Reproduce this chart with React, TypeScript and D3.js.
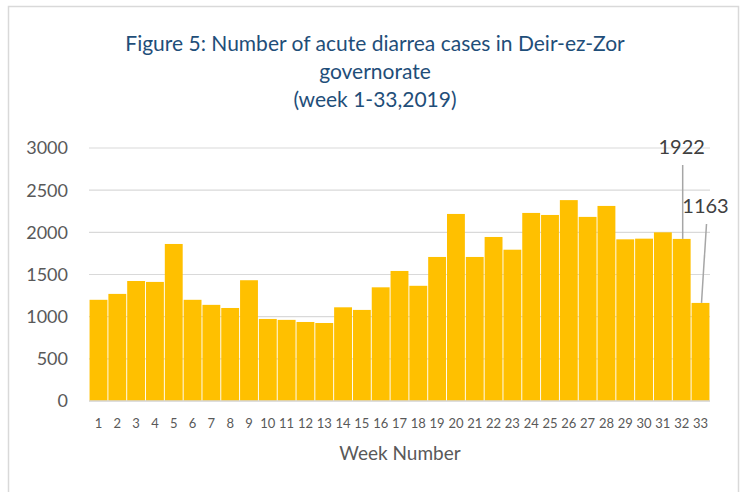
import React from "react"
import * as d3 from "d3"

const weeks = d3.range(1, 34).map((w) => String(w))
const cases = [
  1200, 1270, 1423, 1412, 1862, 1200, 1140, 1103, 1432, 973, 962, 937, 925, 1111, 1080, 1348, 1542,
  1366, 1708, 2218, 1708, 1945, 1794, 2230, 2206, 2382, 2183, 2313, 1917, 1925, 2000, 1922, 1163,
]
const yTicks = [0, 500, 1000, 1500, 2000, 2500, 3000]
const labelledWeeks = ["32", "33"]
const titleLines = [
  "Figure 5: Number of acute diarrea cases in Deir-ez-Zor",
  "governorate",
  "(week 1-33,2019)",
]

const width = 743
const height = 492
const font = "Lato, 'Open Sans', sans-serif"

export default function App() {
  const x = d3.scaleBand<string>().domain(weeks).range([89, 710]).paddingInner(0.05).paddingOuter(0.03)
  const y = d3.scaleLinear().domain([0, 3000]).range([401, 148])

  const cx = (w: string) => (x(w) ?? 0) + x.bandwidth() / 2
  const valueOf = (w: string) => cases[weeks.indexOf(w)]

  // label for week 32 sits straight above, week 33 a bit to the right
  const lbl32 = labelledWeeks[0]
  const lbl33 = labelledWeeks[1]

  return (
    <div style={{ position: "fixed", left: 0, top: 0 }}>
      <svg width={width} height={height} style={{ display: "block", background: "#fff" }}>
        <rect x={8.5} y={6.5} width={730} height={495} fill="#fff" stroke="#d9d9d9" strokeWidth={1.5} />

        {titleLines.map((t, i) => (
          <text
            key={i}
            x={375}
            y={51 + i * 28}
            textAnchor="middle"
            fontFamily={font}
            fontSize={21}
            fill="#1F4E79"
          >
            {t}
          </text>
        ))}

        {yTicks.map((t) => (
          <g key={t}>
            <line x1={89} x2={710} y1={y(t)} y2={y(t)} stroke="#d9d9d9" strokeWidth={1.2} />
            <text
              x={68}
              y={y(t)}
              dy="0.36em"
              textAnchor="end"
              fontFamily={font}
              fontSize={18}
              fill="#595959"
            >
              {t}
            </text>
          </g>
        ))}

        {weeks.map((w, i) => (
          <rect
            key={w}
            x={x(w)}
            y={y(cases[i])}
            width={x.bandwidth()}
            height={y(0) - y(cases[i])}
            fill="#FFC000"
          />
        ))}

        <line x1={89} x2={710} y1={y(0)} y2={y(0)} stroke="#d9d9d9" strokeWidth={1.5} />

        {weeks.map((w) => (
          <text
            key={w}
            x={cx(w)}
            y={428}
            textAnchor="middle"
            fontFamily={font}
            fontSize={13}
            fill="#595959"
          >
            {w}
          </text>
        ))}

        <text x={400} y={460} textAnchor="middle" fontFamily={font} fontSize={19} fill="#595959">
          Week Number
        </text>

        {/* data labels with leader lines */}
        <line
          x1={cx(lbl32) + 1}
          x2={cx(lbl32) + 1}
          y1={165}
          y2={y(valueOf(lbl32))}
          stroke="#a6a6a6"
          strokeWidth={1.5}
        />
        <text x={cx(lbl32)} y={154} textAnchor="middle" fontFamily={font} fontSize={20} fill="#404040">
          {valueOf(lbl32)}
        </text>

        <line
          x1={cx(lbl33) + 6}
          x2={cx(lbl33) + 1}
          y1={224}
          y2={y(valueOf(lbl33))}
          stroke="#a6a6a6"
          strokeWidth={1.5}
        />
        <text x={cx(lbl33) + 5} y={213} textAnchor="middle" fontFamily={font} fontSize={20} fill="#404040">
          {valueOf(lbl33)}
        </text>
      </svg>
    </div>
  )
}
